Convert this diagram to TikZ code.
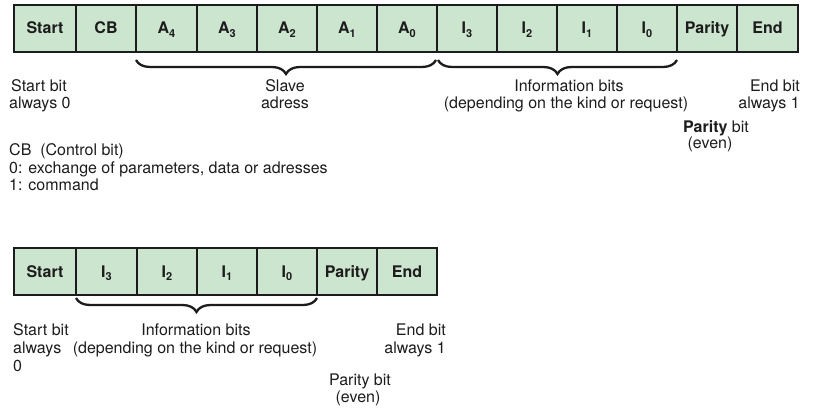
\documentclass[tikz,border=0pt]{standalone}
\usepackage{fontspec}
\setmainfont{TeX Gyre Heros}
\usetikzlibrary{decorations.pathreplacing}

\definecolor{cellgreen}{RGB}{204,229,207}
\definecolor{ink}{RGB}{28,28,28}

\tikzset{
  cell/.style={draw=ink, fill=cellgreen, line width=2.2pt, rectangle, inner sep=0pt,
    minimum height=47pt, text height=13pt, text depth=2pt,
    font=\fontsize{16}{17}\selectfont\bfseries, text=ink},
  txt/.style={inner sep=0pt, font=\fontsize{16}{17}\selectfont, text=ink},
  bracket/.style={draw=ink, line width=2.3pt, decorate,
    decoration={brace, mirror, amplitude=14pt}}
}

% bit index set as a lowered subscript
\newcommand{\bitidx}[1]{\raisebox{-3.5pt}{\fontsize{11}{11}\selectfont #1}}

% place a cell between two x positions (left, right) at vertical centre y
\newcommand{\bitcell}[5]{%
  \node[cell, minimum width={#3-#2}] (#1) at ({(#2+#3)/2},#4) {#5};}

\begin{document}
\begin{tikzpicture}[x=1pt,y=-1pt]
\useasboundingbox (0,0) rectangle (813,409);

% ---- full telegram ----
\bitcell{tS}{14}{76}{28.5}{Start}
\bitcell{tCB}{76}{136}{28.5}{CB}
\bitcell{tAiv}{136}{197}{28.5}{A\bitidx{4}}
\bitcell{tAiii}{197}{257}{28.5}{A\bitidx{3}}
\bitcell{tAii}{257}{317}{28.5}{A\bitidx{2}}
\bitcell{tAi}{317}{377}{28.5}{A\bitidx{1}}
\bitcell{tAo}{377}{437}{28.5}{A\bitidx{0}}
\bitcell{tIiii}{437}{497}{28.5}{I\bitidx{3}}
\bitcell{tIii}{497}{557}{28.5}{I\bitidx{2}}
\bitcell{tIi}{557}{617}{28.5}{I\bitidx{1}}
\bitcell{tIo}{617}{677}{28.5}{I\bitidx{0}}
\bitcell{tP}{677}{737}{28.5}{Parity}
\bitcell{tE}{737}{798}{28.5}{End}

\coordinate (bA1) at (136,60);
\coordinate (bA2) at (436,60);
\coordinate (bI1) at (438,60);
\coordinate (bI2) at (677,60);
\draw[bracket] (bA1) -- (bA2);
\draw[bracket] (bI1) -- (bI2);

\node[txt, anchor=base west] (ts1) at (11,92) {Start bit};
\node[txt, anchor=base west] (ts2) at (9,109) {always 0};
\node[txt, anchor=base] (sa1) at (285,92) {Slave};
\node[txt, anchor=base] (sa2) at (285,109) {adress};
\node[txt, anchor=base] (ti1) at (569,92) {Information bits};
\node[txt, anchor=base] (ti2) at (566,109) {(depending on the kind or request)};
\node[txt, anchor=base east] (te1) at (800,92) {End bit};
\node[txt, anchor=base east] (te2) at (800,109) {always 1};
\node[txt, anchor=base] (tp1) at (716,132) {\textbf{Parity} bit};
\node[txt, anchor=base] (tp2) at (710,148) {(even)};

\node[txt, anchor=base west] (cb1) at (9,155) {CB\ \ (Control bit)};
\node[txt, anchor=base west] (cb2) at (9,173) {0: exchange of parameters, data or adresses};
\node[txt, anchor=base west] (cb3) at (9,190) {1: command};

% ---- short telegram ----
\bitcell{bS}{14}{76}{271.5}{Start}
\bitcell{bIiii}{76}{137}{271.5}{I\bitidx{3}}
\bitcell{bIii}{137}{197}{271.5}{I\bitidx{2}}
\bitcell{bIi}{197}{257}{271.5}{I\bitidx{1}}
\bitcell{bIo}{257}{317}{271.5}{I\bitidx{0}}
\bitcell{bP}{317}{377}{271.5}{Parity}
\bitcell{bE}{377}{437}{271.5}{End}

\coordinate (bB1) at (76,298);
\coordinate (bB2) at (317,298);
\draw[bracket] (bB1) -- (bB2);

\node[txt, anchor=base west] (bs1) at (13,335) {Start bit};
\node[txt, anchor=base west] (bs2) at (13,353) {always};
\node[txt, anchor=base west] (bs3) at (13,371) {0};
\node[txt, anchor=base] (bi1) at (196,335) {Information bits};
\node[txt, anchor=base] (bi2) at (195,353) {(depending on the kind or request)};
\node[txt, anchor=base east] (be1) at (446,335) {End bit};
\node[txt, anchor=base east] (be2) at (446,353) {always 1};
\node[txt, anchor=base] (bp1) at (360,385) {Parity bit};
\node[txt, anchor=base] (bp2) at (358,402) {(even)};
\end{tikzpicture}
\end{document}
